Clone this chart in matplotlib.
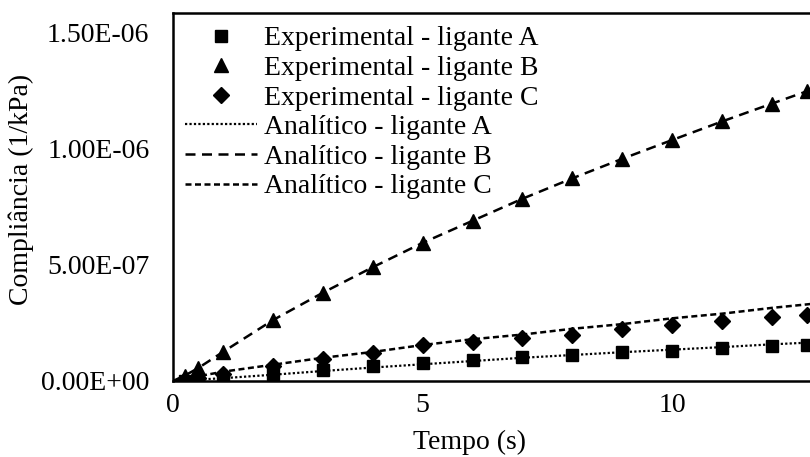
import numpy as np
import matplotlib.pyplot as plt

# time points (s)
tempo_exp = [0.25, 0.5, 1, 2, 3, 4, 5, 6, 7, 8, 9, 10, 11, 12, 12.7]
tempo_ana = [0, 0.25, 0.5, 1, 2, 3, 4, 5, 6, 7, 8, 9, 10, 11, 12, 12.7, 13]

# experimental compliance (x 1e-6 1/kPa)
exp_A = [0.002, 0.005, 0.012, 0.030, 0.048, 0.063, 0.077, 0.090, 0.103, 0.114, 0.123, 0.130, 0.142, 0.150, 0.155]
exp_B = [0.020, 0.055, 0.125, 0.263, 0.380, 0.490, 0.595, 0.690, 0.785, 0.875, 0.958, 1.040, 1.120, 1.195, 1.250]
exp_C = [0.005, 0.015, 0.030, 0.065, 0.095, 0.120, 0.155, 0.167, 0.185, 0.200, 0.223, 0.240, 0.258, 0.275, 0.283]

# analytical compliance (x 1e-6 1/kPa)
ana_A = [0, 0.003, 0.006, 0.012, 0.027, 0.043, 0.058, 0.072, 0.086, 0.100, 0.112, 0.124, 0.135, 0.146, 0.158, 0.165, 0.170]
ana_B = [0, 0.025, 0.055, 0.125, 0.262, 0.380, 0.490, 0.595, 0.690, 0.785, 0.873, 0.957, 1.038, 1.118, 1.195, 1.248, 1.270]
ana_C = [0, 0.010, 0.020, 0.040, 0.070, 0.100, 0.125, 0.155, 0.180, 0.200, 0.225, 0.245, 0.270, 0.290, 0.315, 0.330, 0.337]

y_ticks = [0, 5e-7, 1e-6, 1.5e-6]
y_tick_labels = ['0.00E+00', '5.00E-07', '1.00E-06', '1.50E-06']
x_ticks = [0, 5, 10]

plt.rcParams['font.family'] = ['Liberation Serif', 'DejaVu Serif']
fs = 20

fig = plt.figure(figsize=(8.1, 4.57), dpi=100)
ax = fig.add_axes([173 / 810, 76 / 457, 1 - 173 / 810, 368 / 457])

s = 1e-6
ax.plot(tempo_exp, np.array(exp_A) * s, 's', color='black', markersize=9, label='Experimental - ligante A')
ax.plot(tempo_exp, np.array(exp_B) * s, '^', color='black', markersize=10.5, label='Experimental - ligante B')
ax.plot(tempo_exp, np.array(exp_C) * s, 'D', color='black', markersize=8, label='Experimental - ligante C')
ax.plot(tempo_ana, np.array(ana_A) * s, color='black', lw=1.6, linestyle=(0, (1, 1)), label='Analítico - ligante A')
ax.plot(tempo_ana, np.array(ana_B) * s, color='black', lw=1.8, linestyle=(0, (4, 2.6)), label='Analítico - ligante B')
ax.plot(tempo_ana, np.array(ana_C) * s, color='black', lw=1.8, linestyle=(0, (2.4, 1.4)), label='Analítico - ligante C')

ax.set_xlim(0, 12.76)
ax.set_ylim(0, 1.585e-6)
ax.set_xticks(x_ticks)
ax.set_yticks(y_ticks)
ax.set_yticklabels(y_tick_labels)
ax.tick_params(axis='both', length=0, labelsize=fs)
ax.tick_params(axis='y', pad=17)
ax.tick_params(axis='x', pad=9)

for side in ['left', 'top', 'bottom']:
    ax.spines[side].set_linewidth(1.8)
ax.spines['right'].set_visible(False)

ax.set_xlabel('Tempo (s)', fontsize=fs)
ax.xaxis.set_label_coords(0.466, -0.132)
ax.set_ylabel('Compliância (1/kPa)', fontsize=fs)
ax.yaxis.set_label_coords(-0.218, 0.52)

ax.legend(loc='upper left', bbox_to_anchor=(0.019, 0.965), frameon=False, fontsize=fs,
          handlelength=2.6, handletextpad=0.25, labelspacing=0.15, borderpad=0, borderaxespad=0)

fig.savefig('out.png', dpi=100)
